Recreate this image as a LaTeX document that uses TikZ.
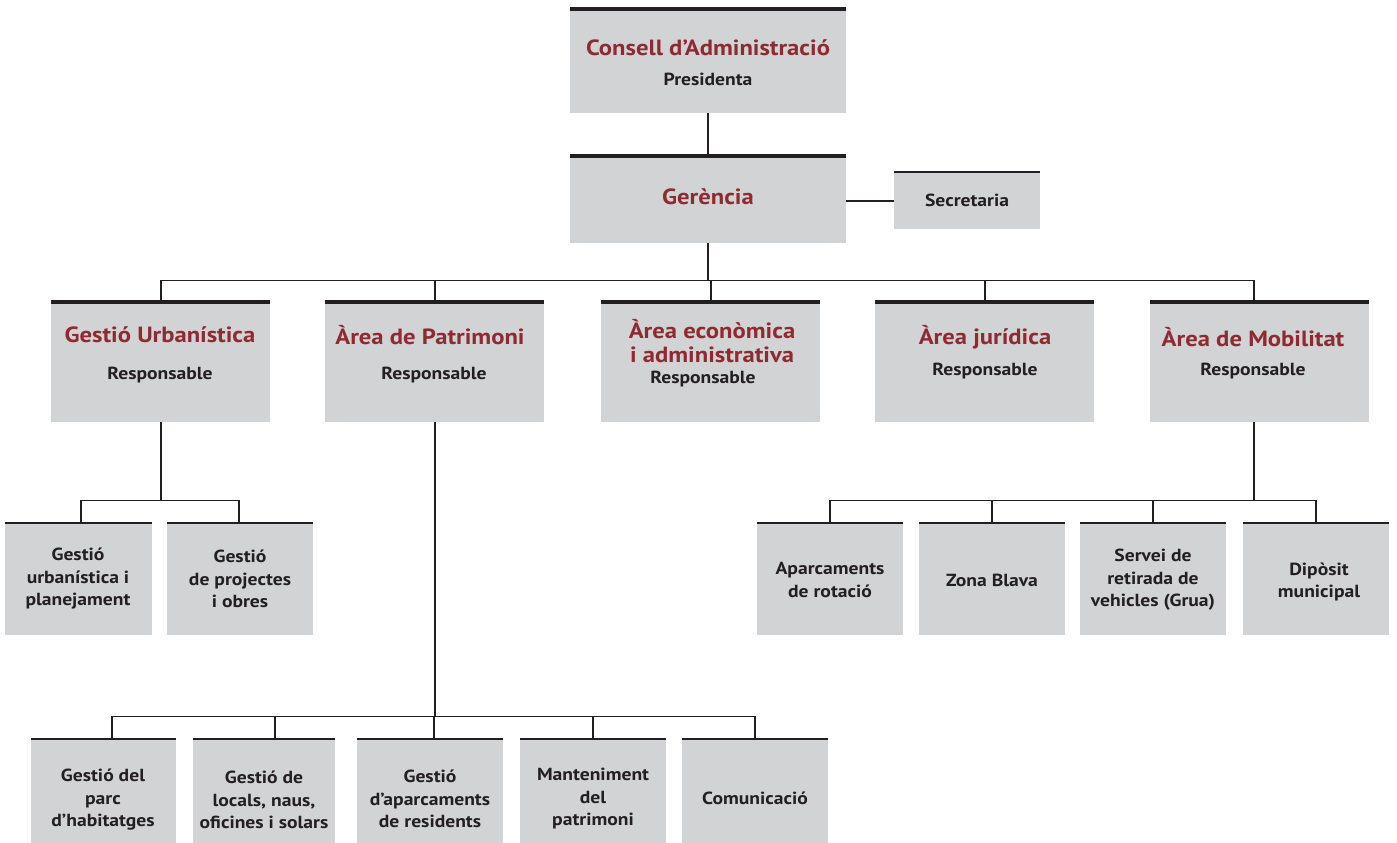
\documentclass[tikz,border=0pt]{standalone}
\usepackage{fontspec}
\setmainfont{PT Sans}[FakeStretch=1.12]
\definecolor{boxgray}{HTML}{D1D3D4}
\definecolor{titlered}{HTML}{8E2B32}
\definecolor{ink}{HTML}{231F20}
\tikzset{
  box/.style={fill=boxgray, inner sep=0, anchor=north west},
  topthick/.style={line width=3.5pt, draw=ink},
  topthin/.style={line width=2pt, draw=ink},
  conn/.style={line width=1.8pt, draw=ink},
  ttl/.style={font=\bfseries\fontsize{22}{24}\selectfont, text=titlered, align=center, inner sep=0},
  lab/.style={font=\bfseries\fontsize{17.5}{22.5}\selectfont, text=ink, align=center, inner sep=0}
}
\begin{document}
\begin{tikzpicture}[x=1pt,y=-1pt]
\useasboundingbox[fill=white] (0,0) rectangle (1397,843);
% boxes
\node[box, minimum width=276, minimum height=104] (cons) at (570,9) {};
\node[box, minimum width=276, minimum height=87] (ger) at (570,156) {};
\node[box, minimum width=146, minimum height=57] (sec) at (894,172) {};
\node[box, minimum width=219, minimum height=120] (gu) at (51,302) {};
\node[box, minimum width=219, minimum height=120] (pat) at (325,302) {};
\node[box, minimum width=219, minimum height=120] (eco) at (601,302) {};
\node[box, minimum width=219, minimum height=120] (jur) at (875,302) {};
\node[box, minimum width=219, minimum height=120] (mob) at (1150,302) {};
\node[box, minimum width=147, minimum height=112] (ga) at (5,523) {};
\node[box, minimum width=146, minimum height=112] (gb) at (167,523) {};
\node[box, minimum width=146, minimum height=112] (ma) at (757,523) {};
\node[box, minimum width=146, minimum height=112] (mb) at (919,523) {};
\node[box, minimum width=146, minimum height=112] (mc) at (1080,523) {};
\node[box, minimum width=146, minimum height=112] (md) at (1243,523) {};
\node[box, minimum width=145, minimum height=104] (pa) at (31,739) {};
\node[box, minimum width=142, minimum height=104] (pb) at (193,739) {};
\node[box, minimum width=146, minimum height=104] (pc) at (357,739) {};
\node[box, minimum width=146, minimum height=104] (pd) at (520,739) {};
\node[box, minimum width=146, minimum height=104] (pe) at (682,739) {};
% top rules
\foreach \n in {cons,ger,gu,pat,eco,jur,mob}
  \draw[topthick] (\n.north west) -- (\n.north east);
\foreach \n in {sec,ga,gb,ma,mb,mc,md,pa,pb,pc,pd,pe}
  \draw[topthin] (\n.north west) -- (\n.north east);
% connectors
\draw[conn] (cons.south) -- (ger.north);
\draw[conn] ([yshift=-1.5pt]ger.east) -- ([yshift=-1.5pt]ger.east -| sec.west);
\path (ger.south) ++(0,37) coordinate (b1);
\draw[conn] (ger.south) -- (b1);
\draw[conn] (gu.north) -- (gu.north |- b1) -- ([xshift=-5.5pt]mob.north |- b1) -- ([xshift=-5.5pt]mob.north);
\draw[conn] (pat.north) -- (pat.north |- b1);
\draw[conn] (eco.north) -- (eco.north |- b1);
\draw[conn] (jur.north) -- (jur.north |- b1);
% Gestio urbanistica children
\path (gu.south) ++(0,78) coordinate (b2);
\draw[conn] (gu.south) -- (b2);
\draw[conn] ([xshift=2.5pt]ga.north) -- ([xshift=2.5pt]ga.north |- b2) -- ([xshift=-1pt]gb.north |- b2) -- ([xshift=-1pt]gb.north);
% Patrimoni children
\path (pat.south) ++(0,294) coordinate (b3);
\draw[conn] (pat.south) -- (b3);
\draw[conn] ([xshift=8.5pt]pa.north) -- ([xshift=8.5pt]pa.north |- b3) -- (pe.north |- b3) -- (pe.north);
\draw[conn] ([xshift=11pt]pb.north) -- ([xshift=11pt]pb.north |- b3);
\draw[conn] ([xshift=4pt]pc.north) -- ([xshift=4pt]pc.north |- b3);
\draw[conn] (pd.north) -- (pd.north |- b3);
% Mobilitat children
\path ([xshift=-5.5pt]mob.south) ++(0,78) coordinate (b4);
\draw[conn] ([xshift=-5.5pt]mob.south) -- (b4);
\draw[conn] (ma.north) -- (ma.north |- b4) -- (md.north |- b4) -- (md.north);
\draw[conn] (mb.north) -- (mb.north |- b4);
\draw[conn] (mc.north) -- (mc.north |- b4);
% texts
\node[ttl] (tcons) at (708,48) {Consell d’Administració};
\node[lab] (lcons) at (708,79) {Presidenta};
\node[ttl] (tger) at (708,197) {Gerència};
\node[lab] (lsec) at (967,200) {Secretaria};
\node[ttl] (tgu) at (160,335) {Gestió Urbanística};
\node[lab] (lgu) at (160,375) {Responsable};
\node[ttl] (tpat) at (430,335) {Àrea de Patrimoni};
\node[lab] (lpat) at (434,375) {Responsable};
\node[ttl] (teco) at (712,341) {Àrea econòmica\\i administrativa};
\node[lab] (leco) at (703,379) {Responsable};
\node[ttl] (tjur) at (985,337) {Àrea jurídica};
\node[lab] (ljur) at (985,371) {Responsable};
\node[ttl] (tmob) at (1253,337) {Àrea de Mobilitat};
\node[lab] (lmob) at (1253,371) {Responsable};
\node[lab] (lga) at (78,579) {Gestió\\urbanística i\\planejament};
\node[lab] (lgb) at (240,579) {Gestió\\de projectes\\i obres};
\node[lab] (lma) at (830,580) {Aparcaments\\de rotació};
\node[lab] (lmb) at (992,580) {Zona Blava};
\node[lab] (lmc) at (1153,580) {Servei de\\retirada de\\vehicles (Grua)};
\node[lab] (lmd) at (1319,582) {Dipòsit\\municipal};
\node[lab] (lpa) at (103,800) {Gestió del\\parc\\d’habitatges};
\node[lab] (lpb) at (264,800) {Gestió de\\locals, naus,\\oficines i solars};
\node[lab] (lpc) at (430,799) {Gestió\\d’aparcaments\\de residents};
\node[lab] (lpd) at (593,799) {Manteniment\\del\\patrimoni};
\node[lab] (lpe) at (755,798) {Comunicació};
\end{tikzpicture}
\end{document}
